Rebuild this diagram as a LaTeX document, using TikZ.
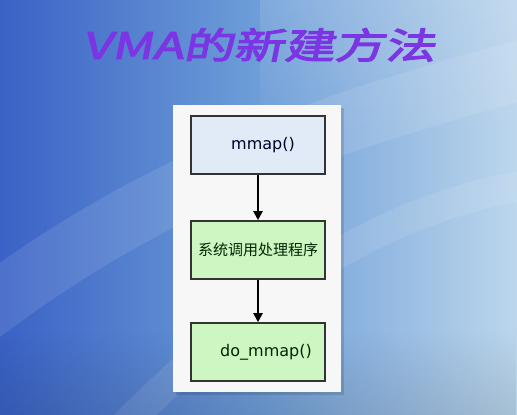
\documentclass[tikz,border=0pt]{standalone}
\usepackage{fontspec}
\usepackage{xcolor}
\usepackage{tikz}
\usetikzlibrary{arrows.meta,positioning,calc,fadings}
\setmainfont{DejaVu Sans}
\newfontfamily\cjkfont{Noto Sans CJK SC}
\newfontfamily\titlefont[FakeSlant=0.2,FakeStretch=1.4,FakeBold=3.5]{Noto Sans CJK SC}
\definecolor{bgdark}{HTML}{3A62C6}
\definecolor{bgmid}{HTML}{6E9ED8}
\definecolor{bglight}{HTML}{BCD6EC}
\definecolor{titlepurple}{HTML}{7B35E2}
\definecolor{boxblue}{HTML}{E1EBF7}
\definecolor{boxgreen}{HTML}{CDF6C3}
\definecolor{panelgray}{HTML}{F7F7F8}

\begin{document}
\begin{tikzpicture}[x=1pt,y=-1pt,
  box/.style={draw=black!80,line width=1.6pt,minimum width=134pt,minimum height=58pt,inner sep=0pt},
  flow/.style={line width=2pt,-{Triangle[length=9pt,width=9pt]}}]
\useasboundingbox (0,0) rectangle (517,415);
% background
\shade[left color=bgdark,right color=bglight,middle color=bgmid] (0,0) rectangle (517,415);
\draw[white,opacity=0.10,line width=60pt] (-40,330) .. controls (150,180) and (330,120) .. (560,60);
\draw[white,opacity=0.10,line width=30pt] (120,430) .. controls (250,300) and (380,200) .. (560,180);
\fill[white,opacity=0.12,path fading=south] (260,0) rectangle (517,140);
\fill[black,opacity=0.10,path fading=north] (0,330) rectangle (517,415);
% title
\node[text=titlepurple,font=\titlefont\fontsize{36}{36}\selectfont] (title) at (259,45) {VMA的新建方法};
% panel
\fill[black,opacity=0.12] (176,108) rectangle (344,395);
\fill[panelgray] (173,105) rectangle (341,392);
% flow
\node[box,fill=boxblue,text=black!85!blue,font=\fontsize{16}{16}\selectfont] (mmap) at (258,145) {\hspace*{10pt}mmap()};
\node[box,fill=boxgreen,text=black!85!green,font=\cjkfont\fontsize{15}{15}\selectfont] (handler) at (258,250) {系统调用处理程序};
\node[box,fill=boxgreen,text=black!85!green,font=\fontsize{16}{16}\selectfont] (domap) at (258,352) {\hspace*{16pt}do\_mmap()};
\draw[flow] (mmap) -- (handler);
\draw[flow] (handler) -- (domap);
\end{tikzpicture}
\end{document}
